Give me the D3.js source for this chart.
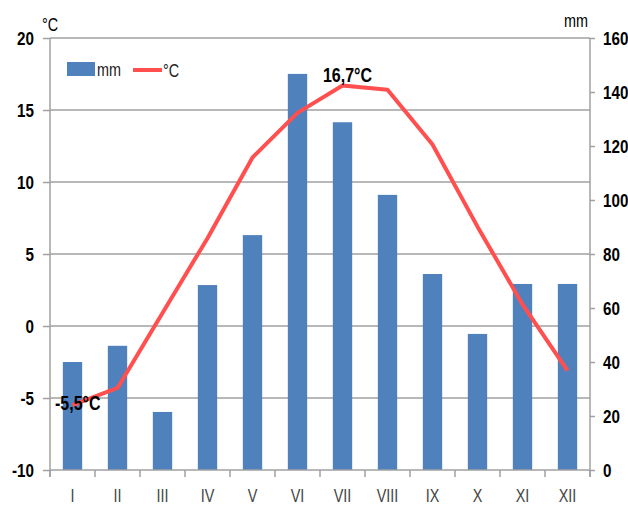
<!DOCTYPE html>
<html>
<head>
<meta charset="utf-8">
<script src="https://cdn.jsdelivr.net/npm/d3@7"></script>
<style>
  html, body { margin: 0; padding: 0; background: #fff; }
  svg { display: block; }
  text { font-family: "Liberation Sans", Arial, sans-serif; }
</style>
</head>
<body>
<svg id="chart" width="628" height="507"></svg>
<script>
const months = ["I","II","III","IV","V","VI","VII","VIII","IX","X","XI","XII"];
const precipitation = [40, 46, 21.5, 68.5, 87, 146.7, 128.8, 101.9, 72.6, 50.4, 68.9, 68.9];
const temperature = [-5.5, -4.3, 0.9, 6.1, 11.7, 14.8, 16.7, 16.4, 12.6, 6.9, 1.5, -3.1];
const tempTicks = [-10, -5, 0, 5, 10, 15, 20];
const precTicks = [0, 20, 40, 60, 80, 100, 120, 140, 160];
const tempLabels = [{i: 0, text: "-5,5°C"}, {i: 6, text: "16,7°C"}];

const svg = d3.select("#chart");
const L = 50, R = 590, T = 38, B = 470;
const SX = 0.8;
const gridColor = "#a0a0a0";
const barColor = "#4f81bd";
const lineColor = "#ff4f4f";

const x = d3.scaleBand().domain(months).range([L, R]).padding(0);
const xEdge = d3.scaleLinear().domain([0, 12]).range([L, R]);
const yT = d3.scaleLinear().domain([-10, 20]).range([B, T]);
const yP = d3.scaleLinear().domain([0, 160]).range([B, T]);

function label(px, py, txt, size, opts = {}) {
  return svg.append("text")
    .attr("transform", `translate(${px},${py}) scale(${SX},1)`)
    .attr("font-size", size)
    .attr("font-weight", opts.bold ? "bold" : "normal")
    .attr("fill", opts.fill || "#000")
    .attr("text-anchor", opts.anchor || "start")
    .text(txt);
}

// gridlines
svg.append("g").selectAll("line").data(tempTicks.filter(d => d > -10)).join("line")
  .attr("x1", L).attr("x2", R)
  .attr("y1", d => yT(d)).attr("y2", d => yT(d))
  .attr("stroke", gridColor).attr("stroke-width", 1.5);

// bars
const bw = x.bandwidth() * 0.43;
svg.append("g").selectAll("rect").data(precipitation).join("rect")
  .attr("x", (d, i) => x(months[i]) + x.bandwidth() / 2 - bw / 2)
  .attr("width", bw)
  .attr("y", d => yP(d))
  .attr("height", d => yP(0) - yP(d))
  .attr("fill", barColor);

// left axis
const gl = svg.append("g").attr("transform", `translate(${L},0)`)
  .call(d3.axisLeft(yT).tickValues(tempTicks).tickSize(7).tickFormat(d => String(d)));
gl.select(".domain").attr("stroke", gridColor).attr("stroke-width", 1.5).attr("d", `M0,${T}V${B + 7}`);
gl.selectAll(".tick line").attr("stroke", gridColor).attr("stroke-width", 1.5);
gl.selectAll(".tick text").attr("font-size", 19).attr("font-weight", "bold").attr("fill", "#000")
  .attr("dy", "0.33em").attr("transform", `scale(${SX},1)`).attr("x", -16 / SX);

// right axis
const gr = svg.append("g").attr("transform", `translate(${R},0)`)
  .call(d3.axisRight(yP).tickValues(precTicks).tickSize(5).tickFormat(d => String(d)));
gr.select(".domain").attr("stroke", gridColor).attr("stroke-width", 1.5).attr("d", `M0,${T}V${B + 7}`);
gr.selectAll(".tick line").attr("stroke", gridColor).attr("stroke-width", 1.5);
gr.selectAll(".tick text").attr("font-size", 19).attr("font-weight", "bold").attr("fill", "#000")
  .attr("dy", "0.33em").attr("transform", `scale(${SX},1)`).attr("x", 13 / SX);

// bottom axis
svg.append("line").attr("x1", L).attr("x2", R).attr("y1", B).attr("y2", B)
  .attr("stroke", gridColor).attr("stroke-width", 1.5);
svg.append("g").selectAll("line").data(d3.range(13)).join("line")
  .attr("x1", d => xEdge(d)).attr("x2", d => xEdge(d))
  .attr("y1", B).attr("y2", B + 7)
  .attr("stroke", gridColor).attr("stroke-width", 1.5);
const gb = svg.append("g").attr("transform", `translate(0,${B})`)
  .call(d3.axisBottom(x).tickSize(0));
gb.select(".domain").remove();
gb.selectAll(".tick text").attr("font-size", 18).attr("fill", "#444")
  .attr("y", 32).attr("dy", 0).attr("transform", `scale(${SX},1)`);

// temperature line
const line = d3.line().x((d, i) => x(months[i]) + x.bandwidth() / 2).y(d => yT(d));
svg.append("path").datum(temperature)
  .attr("d", line).attr("fill", "none")
  .attr("stroke", lineColor).attr("stroke-width", 4).attr("stroke-linejoin", "round");

// annotations
label(x(months[tempLabels[1].i]) + x.bandwidth() / 2 + 5, 82, tempLabels[1].text, 20, {bold: true, anchor: "middle"});
label(55, 410, tempLabels[0].text, 20, {bold: true});

// axis titles
label(42, 31, "°C", 18);
label(588, 27, "mm", 18, {anchor: "end"});

// legend
svg.append("rect").attr("x", 67).attr("y", 62).attr("width", 28).attr("height", 14).attr("fill", barColor);
label(97, 76, "mm", 18, {fill: "#222"});
svg.append("line").attr("x1", 133).attr("x2", 162).attr("y1", 70).attr("y2", 70)
  .attr("stroke", lineColor).attr("stroke-width", 4);
label(163, 77, "°C", 18, {fill: "#222"});
</script>
</body>
</html>
